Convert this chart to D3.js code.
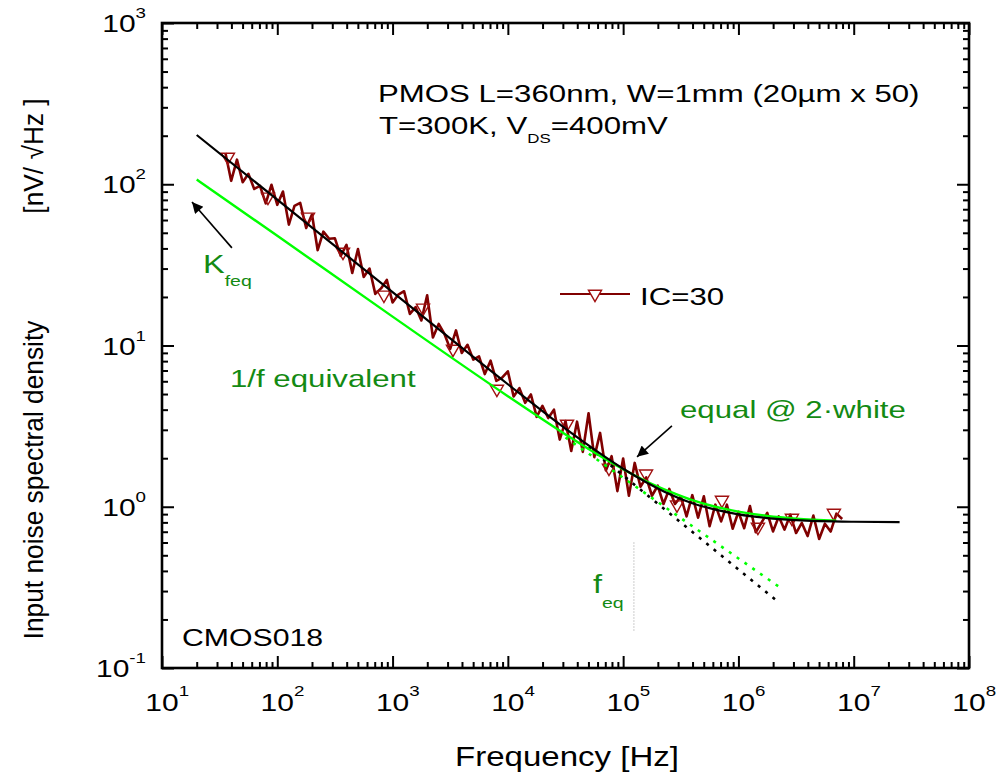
<!DOCTYPE html>
<html><head><meta charset="utf-8">
<script src="https://cdn.jsdelivr.net/npm/d3@7"></script>
<style>body{margin:0;background:#fff;} text{font-family:"Liberation Sans",Arial,sans-serif;}</style>
</head><body><svg id="chart" width="1004" height="778"></svg>
<script>
// ---------- data ----------
const freq = [35.5,39.8,44.7,50.1,56.2,63.1,70.8,79.4,89.1,
 100,112,126,141,158,178,200,224,251,282,316,355,398,447,501,562,631,708,794,891,
 1000,1122,1259,1413,1585,1778,1995,2239,2512,2818,3162,3548,3981,4467,5012,5623,6310,7079,7943,8913,
 10000,11220,12590,14130,15850,17780,19950,22390,25120,28180,31620,35480,39810,44670,50120,56230,63100,70790,79430,89130,
 100000,112200,125900,141300,158500,177800,199500,223900,251200,281800,316200,354800,398100,446700,501200,562300,631000,707900,794300,891300,
 1000000,1122000,1259000,1413000,1585000,1778000,1995000,2239000,2512000,2818000,3162000,3548000,3981000,4467000,5012000,5623000,6310000,7079000,7943000];
const psd = [156,105,142,103,116,93.5,97.7,76.0,99.3,
 74.5,90.2,56.2,73.5,76.7,53.5,64.9,39.0,50.8,45.9,46.2,36.0,42.1,28.2,39.6,26.6,30.0,20.9,22.6,25.5,
 18.5,20.7,21.7,15.7,17.3,14.3,20.5,11.2,13.6,11.8,9.53,12.4,8.99,10.1,8.17,8.55,6.65,8.05,6.04,6.32,
 6.92,4.83,5.44,4.41,4.97,3.61,4.22,3.55,4.00,2.61,3.40,2.22,3.37,2.19,3.80,2.03,2.87,1.68,2.06,1.25,
 1.99,1.17,1.87,1.33,1.52,1.17,1.35,1.04,1.29,1.04,1.16,0.871,1.18,0.855,1.16,0.757,1.03,0.811,1.03,0.730,
 0.931,0.736,1.01,0.695,0.798,0.916,0.703,0.871,0.721,0.893,0.687,0.794,0.658,0.881,0.631,0.785,0.702,0.906,0.840];
const markerFreq = [37.3,83.0,184.5,371.5,841,1837,3342,8035,32580,75340,157800,293100,719500,1476000,2911000,6730000];
const markerPsd  = [147.6,83.4,62.7,38.0,20.6,17.1,9.51,5.37,3.26,1.74,1.60,1.03,1.10,0.748,0.851,0.914];
// black fit: flicker + white
const fitFreq = [20,100,1000,10000,31620,50120,100000,158500,251200,398100,631000,1000000,1778000,3162000,10000000,25000000];
const fitPsd  = [202,80.2,21.4,5.75,3.05,2.40,1.72,1.42,1.20,1.05,0.959,0.897,0.851,0.826,0.807,0.803];
// black fit, flicker part only (dotted extension)
const fitFlickFreq = [50120,2290000];
const fitFlickPsd  = [2.34,0.252];
// green 1/f equivalent + white
const eqFreq = [20,100,1000,10000,31620,50120,100000,158500,251200,398100,631000,1000000,1778000,3162000,7080000];
const eqPsd  = [107,47.9,15.1,4.85,2.81,2.28,1.71,1.44,1.246,1.10,1.00,0.932,0.877,0.844,0.820];
// green 1/f equivalent only (dotted extension)
const eqFlickFreq = [31620,2290000];
const eqFlickPsd  = [2.69,0.316];
const feq = 124000, feqRange = [0.17,0.6];
const xTickPowers = [1,2,3,4,5,6,7,8];
const yTickPowers = [-1,0,1,2,3];
const legendLabel = "IC=30";

// ---------- layout ----------
const svg = d3.select("#chart");
const L=162, R=969, T=23, B=668;
const x = d3.scaleLog().domain([10,1e8]).range([L,R]);
const y = d3.scaleLog().domain([0.1,1000]).range([B,T]);
const dark = "#800000", lime = "#00ff00", green = "#138a13";

// ticks
const isPow = v => Math.abs(Math.log10(v) - Math.round(Math.log10(v))) < 1e-9;
const xMinor = x.ticks().filter(v => !isPow(v));
const yMinor = y.ticks().filter(v => !isPow(v));
const xMajor = xTickPowers.map(p => Math.pow(10,p));
const yMajor = yTickPowers.map(p => Math.pow(10,p));
function axisG(axis, tx, ty){
  const g = svg.append("g").attr("transform",`translate(${tx},${ty})`).call(axis);
  g.select(".domain").remove();
  g.selectAll(".tick line").attr("stroke","#000").attr("stroke-width",2);
  g.selectAll(".tick text").remove();
}
const W = R-L, Hh = B-T;
[[xMinor,6],[xMajor,12]].forEach(([v,s])=>{
  axisG(d3.axisBottom(x).tickValues(v).tickSize(-s).tickFormat(""),0,B);
  axisG(d3.axisTop(x).tickValues(v).tickSize(-s).tickFormat(""),0,T);
});
[[yMinor,6],[yMajor,12]].forEach(([v,s])=>{
  axisG(d3.axisLeft(y).tickValues(v).tickSize(-s).tickFormat(""),L,0);
  axisG(d3.axisRight(y).tickValues(v).tickSize(-s).tickFormat(""),R,0);
});
svg.append("rect").attr("x",L).attr("y",T).attr("width",W).attr("height",Hh)
  .attr("fill","none").attr("stroke","#000").attr("stroke-width",2.6);

// text helper
function txt(tx, ty, parts, o={}){
  const g = svg.append("g").attr("transform",`translate(${tx},${ty}) ${o.rot?`rotate(${o.rot})`:""} scale(${o.sx||1.3},1)`);
  const t = g.append("text").attr("text-anchor",o.anchor||"start").attr("fill",o.fill||"#000");
  parts.forEach(p => t.append("tspan").attr("font-size",p.s).attr("dy",p.dy||0).text(p.t));
  return t;
}
// tick labels
xTickPowers.forEach(p=>{
  txt(x(Math.pow(10,p)), 711, [{t:"10",s:24},{t:String(p),s:15,dy:-15}], {sx:1.25, anchor:"start"})
    .attr("x",-13.35);
});
yTickPowers.forEach(p=>{
  txt(146, y(Math.pow(10,p))+9, [{t:"10",s:24},{t:String(p),s:15,dy:-14}], {sx:1.25, anchor:"end"});
});
// axis titles
txt(567, 766, [{t:"Frequency [Hz]",s:28}], {sx:1.18, anchor:"middle"});
txt(43, 480, [{t:"Input noise spectral density",s:28}], {sx:0.94, rot:-90, anchor:"middle"});
txt(43, 156, [{t:"[nV/ \u221AHz ]",s:28}], {sx:0.94, rot:-90, anchor:"middle"});

// ---------- marks ----------
const line = d3.line().x(d=>x(d[0])).y(d=>y(d[1]));
const smooth = d3.line().x(d=>x(d[0])).y(d=>y(d[1])).curve(d3.curveMonotoneX);
const zip = (a,b) => a.map((v,i)=>[v,b[i]]);

// measured data
svg.append("path").datum(zip(freq,psd)).attr("d",line)
  .attr("fill","none").attr("stroke",dark).attr("stroke-width",2.6).attr("stroke-linejoin","round");
const tri = d3.symbol().type(d3.symbolTriangle).size(75);
svg.selectAll(".mk").data(zip(markerFreq,markerPsd)).join("path")
  .attr("transform",d=>`translate(${x(d[0])},${y(d[1])}) rotate(180)`).attr("d",tri)
  .attr("fill","none").attr("stroke","#a01010").attr("stroke-width",1.4);

// dotted extensions
svg.append("path").datum(zip(eqFlickFreq,eqFlickPsd)).attr("d",line)
  .attr("fill","none").attr("stroke",lime).attr("stroke-width",2.6).attr("stroke-dasharray","3,6.5");
svg.append("path").datum(zip(fitFlickFreq,fitFlickPsd)).attr("d",line)
  .attr("fill","none").attr("stroke","#000").attr("stroke-width",2.6).attr("stroke-dasharray","3,6.5");
// green equivalent
svg.append("path").datum(zip(eqFreq,eqPsd)).attr("d",smooth)
  .attr("fill","none").attr("stroke",lime).attr("stroke-width",2.4);
// black fit
svg.append("path").datum(zip(fitFreq,fitPsd)).attr("d",smooth)
  .attr("fill","none").attr("stroke","#000").attr("stroke-width",2.2);

// f_eq marker line
svg.append("line").attr("x1",x(feq)).attr("x2",x(feq)).attr("y1",y(feqRange[1])).attr("y2",y(feqRange[0]))
  .attr("stroke","#999").attr("stroke-width",1).attr("stroke-dasharray","1,2");

// arrows
svg.append("defs").append("marker").attr("id","ah").attr("viewBox","0 0 10 10")
  .attr("refX",10).attr("refY",5).attr("markerWidth",14).attr("markerHeight",11)
  .attr("markerUnits","userSpaceOnUse").attr("orient","auto")
  .append("path").attr("d","M0,0 L10,5 L0,10 Z").attr("fill","#000");
const arrows = [[[40.4,40.3],[18.2,77.6]],[[265000,3.17],[132000,2.04]]];
arrows.forEach(a=>{
  svg.append("line").attr("x1",x(a[0][0])).attr("y1",y(a[0][1])).attr("x2",x(a[1][0])).attr("y2",y(a[1][1]))
    .attr("stroke","#000").attr("stroke-width",1.6).attr("marker-end","url(#ah)");
});

// legend
svg.append("line").attr("x1",560).attr("x2",630).attr("y1",294).attr("y2",294).attr("stroke",dark).attr("stroke-width",2.2);
svg.append("path").attr("transform","translate(595,294) rotate(180)").attr("d",tri)
  .attr("fill","#fff").attr("stroke","#a01010").attr("stroke-width",1.4);
txt(640, 305, [{t:legendLabel,s:24}]);

// annotations
txt(378, 102, [{t:"PMOS L=360nm, W=1mm (20\u00B5m x 50)",s:24}]);
txt(379, 134, [{t:"T=300K, V",s:24},{t:"DS",s:13,dy:9},{t:"=400mV",s:24,dy:-9}]);
txt(203, 273, [{t:"K",s:25},{t:"feq",s:15,dy:13}], {fill:green});
txt(230, 387, [{t:"1/f equivalent",s:24}], {fill:green});
txt(680, 418, [{t:"equal @ 2\u00B7white",s:24}], {fill:green});
txt(593, 593, [{t:"f",s:25},{t:"eq",s:15,dy:15}], {fill:green});
txt(182, 646, [{t:"CMOS018",s:24}], {sx:1.26});
</script></body></html>
